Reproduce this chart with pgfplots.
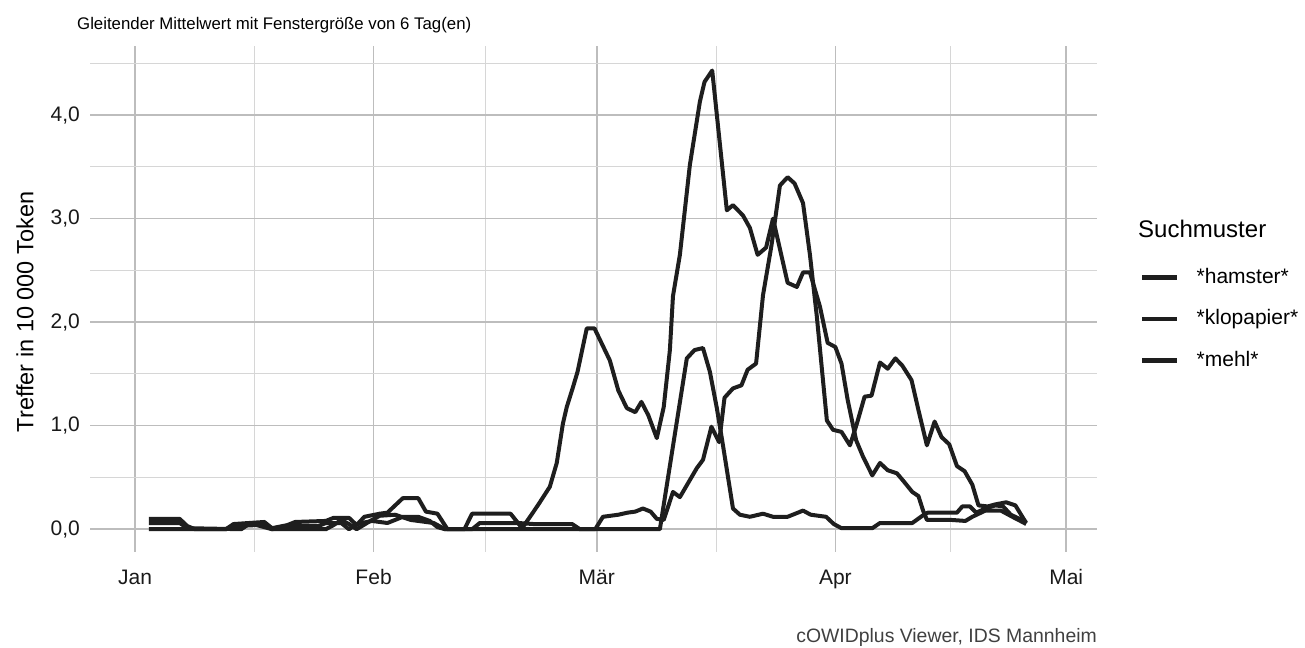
\documentclass[border=0pt]{standalone}
\usepackage{fontspec}
\setmainfont{Liberation Sans}
\usepackage{pgfplots}
\pgfplotsset{compat=1.18}
\definecolor{lc}{HTML}{1E1E1E}
\definecolor{gmaj}{HTML}{BDBDBD}
\definecolor{gmin}{HTML}{D6D6D6}
\begin{document}
\begin{tikzpicture}
\path[use as bounding box] (0bp,0bp) rectangle (1305bp,648bp);
\begin{axis}[
  at={(90bp,96bp)}, anchor=south west,
  width=1007bp, height=506bp, scale only axis,
  xmin=-5.85, xmax=125, ymin=-0.22, ymax=4.667,
  axis line style={draw=none}, tick style={draw=none},
  xtick={0,31,60,91,121}, xticklabels={Jan,Feb,Mär,Apr,Mai},
  minor xtick={15.5,45.5,75.5,106},
  ytick={0,1,2,3,4}, yticklabels={{0,0},{1,0},{2,0},{3,0},{4,0}},
  minor ytick={0.5,1.5,2.5,3.5,4.5},
  grid=both,
  major grid style={draw=gmaj, line width=1.6bp},
  minor grid style={draw=gmin, line width=1.0bp},
  ticklabel style={font=\fontsize{21bp}{25bp}\selectfont, text=black!90},
  yticklabel style={anchor=east, inner sep=0pt, xshift=-10bp},
  xticklabel style={anchor=north, inner sep=0pt, text height=15bp, text depth=5bp, yshift=-17bp},
  legend style={at={(1.0427,0.561)}, anchor=north west, draw=none, fill=none,
    inner sep=0pt, row sep=21.5bp, column sep=17bp,
    font=\fontsize{21bp}{25bp}\selectfont,
    nodes={inner sep=0pt, text height=15bp, text depth=5bp, anchor=base west}},
  legend cell align=left,
  legend image code/.code={\draw[line width=4.5bp, lc] (0bp,6bp) -- (35bp,6bp);},
]
\addplot[lc, line width=4bp, line join=round] coordinates {
(1.8,0.10)(5.8,0.10)(6.8,0.03)(7.8,0)(11.8,0)(12.8,0.05)(16.8,0.07)(17.8,0.01)(19.8,0.04)(20.8,0.07)(24.8,0.08)(25.8,0.11)(27.8,0.11)(28.8,0.04)(29.8,0.12)(31.8,0.15)(32.8,0.16)(34.8,0.30)(36.8,0.30)(37.8,0.17)(39.3,0.15)(40.6,0.0)(42.8,0.0)(43.8,0.15)(48.8,0.15)(50.3,0.01)(51.7,0.16)(52.6,0.26)(53.9,0.41)(54.8,0.64)(55.6,1.02)(56.1,1.18)(56.9,1.37)(57.5,1.52)(58.7,1.94)(59.7,1.94)(61.7,1.63)(62.8,1.34)(63.9,1.17)(65,1.13)(65.8,1.23)(66.7,1.10)(67.8,0.88)(68.7,1.18)(69.5,1.73)(69.9,2.25)(70.8,2.65)(72.1,3.52)(73.4,4.13)(74,4.32)(75,4.43)(76.9,3.08)(77.7,3.13)(79,3.03)(79.9,2.91)(80.9,2.65)(82,2.72)(82.9,3.0)(84.8,2.38)(86,2.34)(86.8,2.48)(87.7,2.48)(89,2.15)(90,1.80)(91,1.76)(91.8,1.60)(92.6,1.25)(93.7,0.86)(94.6,0.70)(95.8,0.52)(96.8,0.64)(97.8,0.57)(99,0.54)(99.8,0.47)(101,0.36)(101.8,0.32)(102.4,0.18)(102.9,0.09)(106,0.09)(107.9,0.08)(108.8,0.12)(110.5,0.18)(112.5,0.18)(114,0.12)(115.3,0.07)(115.8,0.05)
};
\addlegendentry{*hamster*}
\addplot[lc, line width=4bp, line join=round] coordinates {
(1.8,0.06)(5.8,0.06)(6.8,0.01)(13.8,0.0)(14.8,0.05)(16.8,0.05)(17.8,0)(24.8,0)(25.8,0.04)(26.8,0.09)(27.8,0.05)(28.8,0.0)(30.8,0.09)(31.8,0.13)(33.8,0.14)(35.8,0.09)(38.8,0.06)(40.3,0.0)(43.8,0.0)(44.8,0.06)(49.8,0.06)(51.8,0.05)(56.8,0.05)(57.8,0.0)(68.2,0.0)(71.7,1.65)(72.7,1.73)(73.8,1.75)(74.7,1.52)(75.6,1.17)(76.4,0.81)(77.7,0.20)(78.6,0.14)(79.9,0.12)(81.6,0.15)(82.9,0.12)(84.8,0.12)(86.8,0.18)(87.8,0.14)(89.8,0.12)(90.8,0.05)(91.8,0.01)(95.8,0.01)(96.8,0.06)(101,0.06)(102.5,0.14)(103,0.16)(106.8,0.16)(107.5,0.22)(108.5,0.22)(109.3,0.16)(110.5,0.2)(111.8,0.23)(112.8,0.22)(113.8,0.14)(115.8,0.07)
};
\addlegendentry{*klopapier*}
\addplot[lc, line width=4bp, line join=round] coordinates {
(1.8,0)(11.8,0)(12.8,0.03)(15.8,0.04)(17.8,0.0)(19.8,0.03)(23.8,0.03)(24.8,0.06)(26.8,0.06)(27.8,0.0)(28.8,0.05)(30.8,0.08)(32.8,0.06)(34.8,0.12)(36.8,0.12)(38.3,0.08)(39.3,0.02)(40.3,0.0)(59.8,0.0)(60.8,0.12)(62.8,0.14)(64,0.16)(65,0.17)(66,0.2)(67,0.17)(67.8,0.1)(68.7,0.09)(69.9,0.36)(70.8,0.31)(71.9,0.45)(73,0.59)(73.8,0.67)(74.9,0.99)(75.9,0.84)(76.6,1.27)(77.7,1.36)(78.8,1.39)(79.6,1.54)(80.7,1.60)(81.6,2.26)(82.7,2.74)(83.8,3.32)(84.8,3.40)(85.7,3.34)(86.8,3.15)(87.7,2.65)(88.6,2.05)(89.9,1.05)(90.7,0.96)(91.8,0.94)(92.9,0.81)(93.8,1.02)(94.8,1.28)(95.7,1.29)(96.8,1.61)(97.8,1.55)(98.8,1.65)(99.7,1.58)(100.9,1.44)(101.8,1.15)(102.9,0.81)(103.9,1.04)(104.8,0.89)(105.8,0.82)(106.8,0.61)(107.8,0.56)(108.8,0.43)(109.6,0.23)(110.8,0.22)(111.8,0.24)(113.2,0.26)(114.4,0.23)(115.3,0.12)(115.8,0.06)
};
\addlegendentry{*mehl*}
\end{axis}
\node[anchor=base west, inner sep=0pt, font=\fontsize{16.8bp}{20bp}\selectfont] at (77bp,618bp) {Gleitender Mittelwert mit Fenstergröße von 6 Tag(en)};
\node[rotate=90, anchor=center, inner sep=0pt, font=\fontsize{23.5bp}{28bp}\selectfont] at (25bp,336bp) {Treffer in 10 000 Token};
\node[anchor=base west, inner sep=0pt, font=\fontsize{24bp}{29bp}\selectfont] at (1138bp,410bp) {Suchmuster};
\node[anchor=base east, inner sep=0pt, text=black!75, font=\fontsize{19.4bp}{23bp}\selectfont] at (1097bp,6bp) {cOWIDplus Viewer, IDS Mannheim};
\end{tikzpicture}
\end{document}
